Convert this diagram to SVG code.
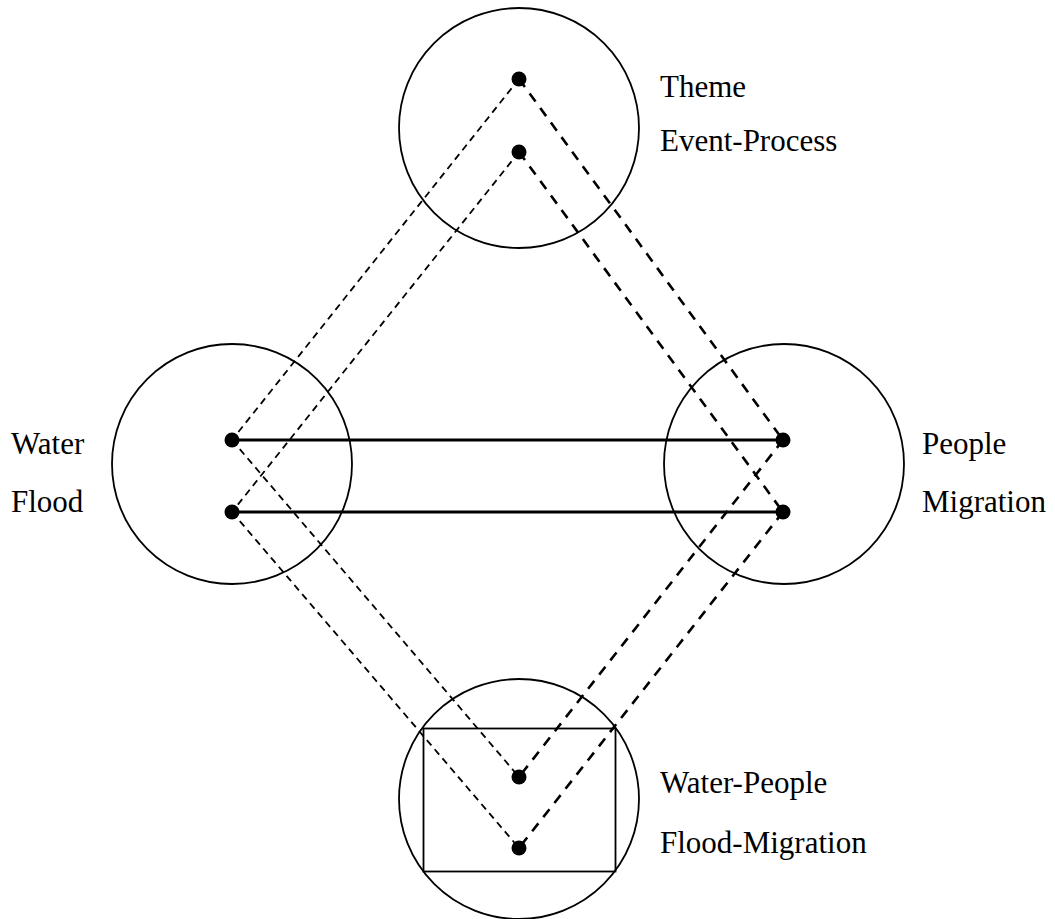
<svg xmlns="http://www.w3.org/2000/svg" width="1055" height="919" viewBox="0 0 1055 919">
<style>
.c{fill:none;stroke:#000;stroke-width:1.8}
.thin{fill:none;stroke:#000;stroke-width:1.8;stroke-dasharray:7 5}
.thick{fill:none;stroke:#000;stroke-width:2.6;stroke-dasharray:10 8}
.solid{stroke:#000;stroke-width:3.2}
.d{fill:#000}
text{font-family:"Liberation Serif","Times New Roman",serif;font-size:31px;fill:#000}
</style>
<rect width="1055" height="919" fill="#fff"/>
<g id="connectors">
<line class="thin" x1="519" y1="79" x2="232" y2="440"/>
<line class="thin" x1="519" y1="152" x2="232" y2="512"/>
<line class="thick" x1="519" y1="79" x2="783" y2="440"/>
<line class="thick" x1="519" y1="152" x2="783" y2="512"/>
<line class="thin" x1="232" y1="440" x2="519" y2="777"/>
<line class="thin" x1="232" y1="512" x2="519" y2="848"/>
<line class="thick" x1="783" y1="440" x2="519" y2="777"/>
<line class="thick" x1="783" y1="512" x2="519" y2="848"/>
<line class="solid" x1="232" y1="440" x2="783" y2="440"/>
<line class="solid" x1="232" y1="512" x2="783" y2="512"/>
</g>
<g id="theme">
<circle class="c" cx="519" cy="128" r="120"/>
<circle class="d" cx="519" cy="79" r="7.5"/>
<circle class="d" cx="519" cy="152" r="7.5"/>
<text x="660" y="96.5">Theme</text>
<text x="660" y="151">Event-Process</text>
</g>
<g id="water">
<circle class="c" cx="232" cy="464" r="120"/>
<circle class="d" cx="232" cy="440" r="7.5"/>
<circle class="d" cx="232" cy="512" r="7.5"/>
<text x="11" y="454">Water</text>
<text x="11" y="512">Flood</text>
</g>
<g id="people">
<circle class="c" cx="784" cy="464" r="120"/>
<circle class="d" cx="783" cy="440" r="7.5"/>
<circle class="d" cx="783" cy="512" r="7.5"/>
<text x="922" y="454">People</text>
<text x="922" y="512">Migration</text>
</g>
<g id="water-people">
<circle class="c" cx="519" cy="799" r="120"/>
<rect class="c" x="423.5" y="728.5" width="192" height="143"/>
<circle class="d" cx="519" cy="777" r="7.5"/>
<circle class="d" cx="519" cy="848" r="7.5"/>
<text x="660" y="793">Water-People</text>
<text x="660" y="853">Flood-Migration</text>
</g>
</svg>
